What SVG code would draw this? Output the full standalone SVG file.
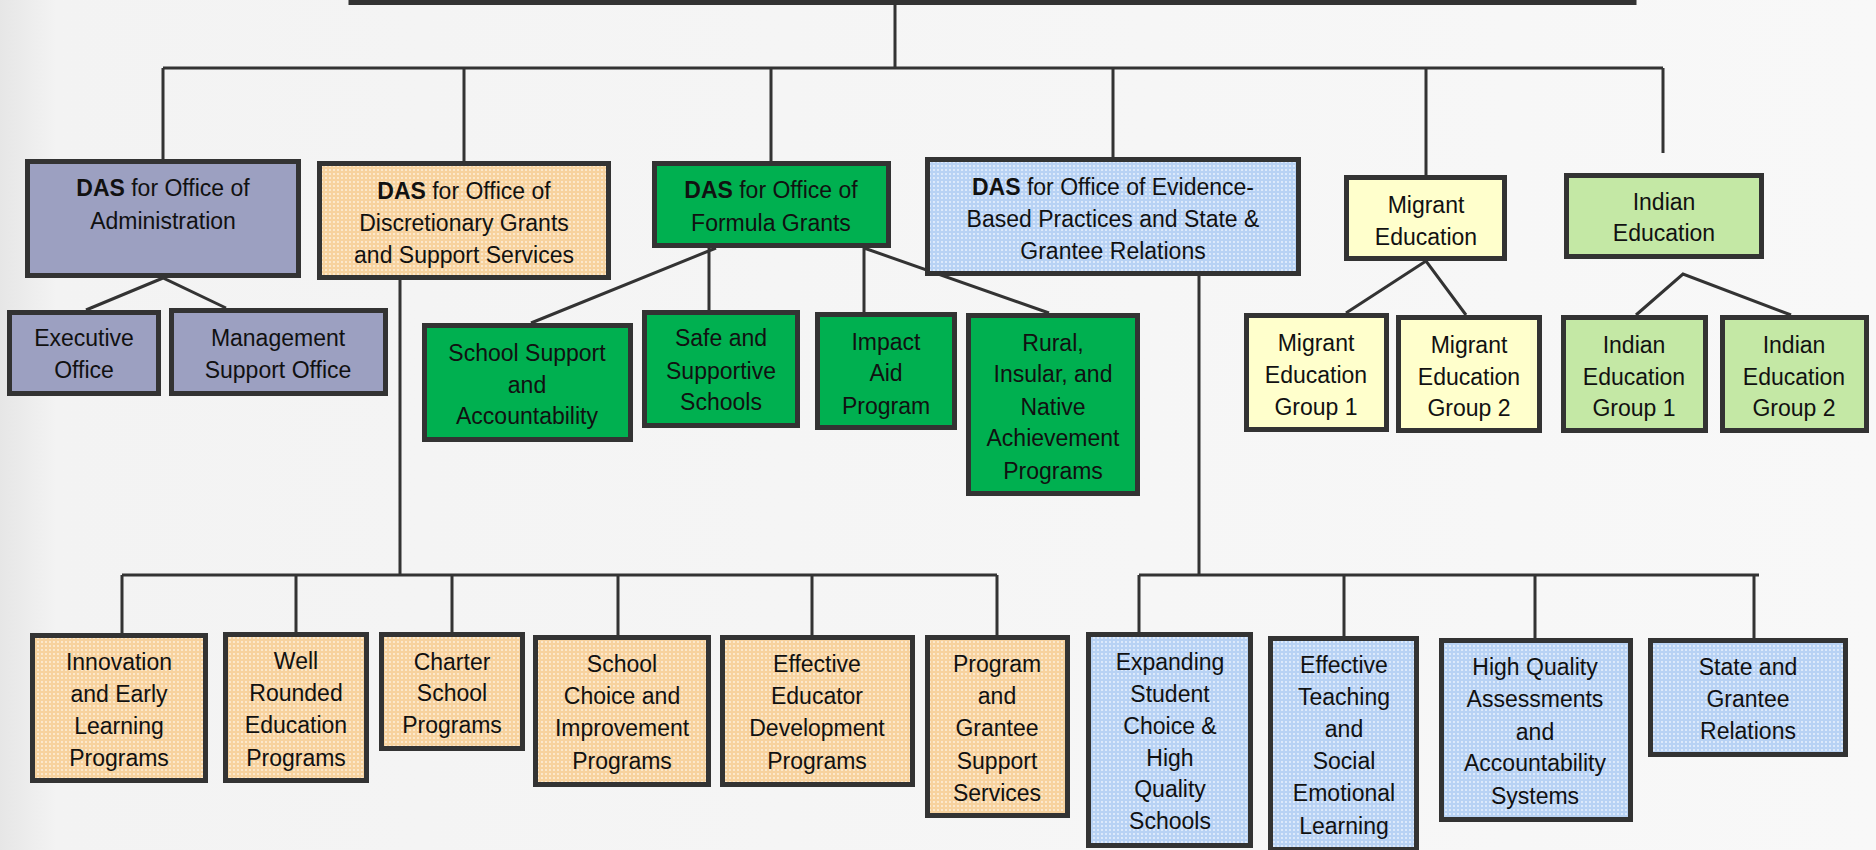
<svg xmlns="http://www.w3.org/2000/svg" width="1876" height="850" viewBox="0 0 1876 850">
<defs>
<linearGradient id="bg" x1="0" y1="0" x2="1" y2="0">
<stop offset="0" stop-color="#e6e6e6"/>
<stop offset="0.03" stop-color="#f3f3f3"/>
<stop offset="1" stop-color="#f8f8f8"/>
</linearGradient>
<pattern id="peach" width="4" height="4" patternUnits="userSpaceOnUse">
<rect width="4" height="4" fill="#f7d29e"/>
<circle cx="2" cy="2" r="0.9" fill="#fff3e2"/>
</pattern>
<pattern id="blue" width="4" height="4" patternUnits="userSpaceOnUse">
<rect width="4" height="4" fill="#b8d2f4"/>
<circle cx="2" cy="2" r="0.9" fill="#eef5ff"/>
</pattern>
</defs>
<style>
.box{stroke:#333;stroke-width:5}
.adm{fill:#9ca0c1}
.pch{fill:url(#peach)}
.grn{fill:#00b050}
.blu{fill:url(#blue)}
.yel{fill:#ffffcc}
.lgr{fill:#c4e8a5}
.t{font-family:"Liberation Sans",Arial,sans-serif;font-size:23px;text-anchor:middle;fill:#111}
.b{font-weight:bold}
.conn{stroke:#333;stroke-width:3;fill:none}
</style>
<rect width="1876" height="850" fill="url(#bg)"/>

<g id="connectors" class="conn">
<path d="M351,-10 V2.5 H1634 V-10" stroke-width="5"/>
<path d="M895,4 V68 M163,68 H1663 M163,68 V159 M464,68 V161 M771,68 V161 M1113,68 V157 M1426,68 V175 M1663,68 V153"/>
<path d="M86,310 L163,278 L226,308"/>
<path d="M531,323 L716,248 M709,248 V310 M864,248 V312 M864,248 L1049,313"/>
<path d="M1346,313 L1426,261 L1466,315"/>
<path d="M1636,315 L1683,274 L1791,315"/>
<path d="M400,280 V575 M122,575 H997 M122,575 V633 M296,575 V632 M452,575 V632 M618,575 V635 M812,575 V635 M997,575 V635"/>
<path d="M1199,276 V575 M1139,575 H1759 M1139,575 V632 M1344,575 V636 M1535,575 V638 M1754,575 V638"/>
</g>

<g id="das-admin">
<rect class="box adm" x="27.5" y="161.5" width="271" height="114"/>
<text class="t"><tspan x="163" y="196"><tspan class="b">DAS</tspan> for Office of</tspan><tspan x="163" y="229">Administration</tspan></text>
</g>
<g id="das-discretionary">
<rect class="box pch" x="319.5" y="163.5" width="289" height="114"/>
<text class="t"><tspan x="464" y="199"><tspan class="b">DAS</tspan> for Office of</tspan><tspan x="464" y="231">Discretionary Grants</tspan><tspan x="464" y="263">and Support Services</tspan></text>
</g>
<g id="das-formula">
<rect class="box grn" x="654.5" y="163.5" width="234" height="82"/>
<text class="t"><tspan x="771" y="198"><tspan class="b">DAS</tspan> for Office of</tspan><tspan x="771" y="231">Formula Grants</tspan></text>
</g>
<g id="das-evidence">
<rect class="box blu" x="927.5" y="159.5" width="371" height="114"/>
<text class="t"><tspan x="1113" y="195"><tspan class="b">DAS</tspan> for Office of Evidence-</tspan><tspan x="1113" y="227">Based Practices and State &amp;</tspan><tspan x="1113" y="259">Grantee Relations</tspan></text>
</g>
<g id="migrant-education">
<rect class="box yel" x="1346.5" y="177.5" width="158" height="81"/>
<text class="t"><tspan x="1426" y="213">Migrant</tspan><tspan x="1426" y="245">Education</tspan></text>
</g>
<g id="indian-education">
<rect class="box lgr" x="1566.5" y="175.5" width="195" height="81"/>
<text class="t"><tspan x="1664" y="210">Indian</tspan><tspan x="1664" y="241">Education</tspan></text>
</g>

<g id="executive-office">
<rect class="box adm" x="9.5" y="312.5" width="149" height="81"/>
<text class="t"><tspan x="84" y="346">Executive</tspan><tspan x="84" y="378">Office</tspan></text>
</g>
<g id="management-support-office">
<rect class="box adm" x="171.5" y="310.5" width="214" height="83"/>
<text class="t"><tspan x="278" y="346">Management</tspan><tspan x="278" y="378">Support Office</tspan></text>
</g>

<g id="school-support">
<rect class="box grn" x="424.5" y="325.5" width="206" height="114"/>
<text class="t"><tspan x="527" y="361">School Support</tspan><tspan x="527" y="393">and</tspan><tspan x="527" y="424">Accountability</tspan></text>
</g>
<g id="safe-supportive">
<rect class="box grn" x="644.5" y="312.5" width="153" height="113"/>
<text class="t"><tspan x="721" y="346">Safe and</tspan><tspan x="721" y="379">Supportive</tspan><tspan x="721" y="410">Schools</tspan></text>
</g>
<g id="impact-aid">
<rect class="box grn" x="817.5" y="314.5" width="137" height="113"/>
<text class="t"><tspan x="886" y="350">Impact</tspan><tspan x="886" y="381">Aid</tspan><tspan x="886" y="414">Program</tspan></text>
</g>
<g id="rural-insular">
<rect class="box grn" x="968.5" y="315.5" width="169" height="178"/>
<text class="t"><tspan x="1053" y="351">Rural,</tspan><tspan x="1053" y="382">Insular, and</tspan><tspan x="1053" y="415">Native</tspan><tspan x="1053" y="446">Achievement</tspan><tspan x="1053" y="479">Programs</tspan></text>
</g>

<g id="migrant-group-1">
<rect class="box yel" x="1246.5" y="315.5" width="140" height="114"/>
<text class="t"><tspan x="1316" y="351">Migrant</tspan><tspan x="1316" y="383">Education</tspan><tspan x="1316" y="415">Group 1</tspan></text>
</g>
<g id="migrant-group-2">
<rect class="box yel" x="1398.5" y="317.5" width="141" height="113"/>
<text class="t"><tspan x="1469" y="353">Migrant</tspan><tspan x="1469" y="385">Education</tspan><tspan x="1469" y="416">Group 2</tspan></text>
</g>
<g id="indian-group-1">
<rect class="box lgr" x="1563.5" y="317.5" width="142" height="113"/>
<text class="t"><tspan x="1634" y="353">Indian</tspan><tspan x="1634" y="385">Education</tspan><tspan x="1634" y="416">Group 1</tspan></text>
</g>
<g id="indian-group-2">
<rect class="box lgr" x="1722.5" y="317.5" width="144" height="113"/>
<text class="t"><tspan x="1794" y="353">Indian</tspan><tspan x="1794" y="385">Education</tspan><tspan x="1794" y="416">Group 2</tspan></text>
</g>

<g id="innovation-early-learning">
<rect class="box pch" x="32.5" y="635.5" width="173" height="145"/>
<text class="t"><tspan x="119" y="670">Innovation</tspan><tspan x="119" y="702">and Early</tspan><tspan x="119" y="734">Learning</tspan><tspan x="119" y="766">Programs</tspan></text>
</g>
<g id="well-rounded">
<rect class="box pch" x="225.5" y="634.5" width="141" height="146"/>
<text class="t"><tspan x="296" y="669">Well</tspan><tspan x="296" y="701">Rounded</tspan><tspan x="296" y="733">Education</tspan><tspan x="296" y="766">Programs</tspan></text>
</g>
<g id="charter-school">
<rect class="box pch" x="381.5" y="634.5" width="141" height="114"/>
<text class="t"><tspan x="452" y="670">Charter</tspan><tspan x="452" y="701">School</tspan><tspan x="452" y="733">Programs</tspan></text>
</g>
<g id="school-choice">
<rect class="box pch" x="535.5" y="637.5" width="173" height="147"/>
<text class="t"><tspan x="622" y="672">School</tspan><tspan x="622" y="704">Choice and</tspan><tspan x="622" y="736">Improvement</tspan><tspan x="622" y="769">Programs</tspan></text>
</g>
<g id="effective-educator">
<rect class="box pch" x="722.5" y="637.5" width="190" height="147"/>
<text class="t"><tspan x="817" y="672">Effective</tspan><tspan x="817" y="704">Educator</tspan><tspan x="817" y="736">Development</tspan><tspan x="817" y="769">Programs</tspan></text>
</g>
<g id="program-grantee-support">
<rect class="box pch" x="927.5" y="637.5" width="140" height="178"/>
<text class="t"><tspan x="997" y="672">Program</tspan><tspan x="997" y="704">and</tspan><tspan x="997" y="736">Grantee</tspan><tspan x="997" y="769">Support</tspan><tspan x="997" y="801">Services</tspan></text>
</g>

<g id="expanding-choice">
<rect class="box blu" x="1088.5" y="634.5" width="162" height="211"/>
<text class="t"><tspan x="1170" y="670">Expanding</tspan><tspan x="1170" y="702">Student</tspan><tspan x="1170" y="734">Choice &amp;</tspan><tspan x="1170" y="766">High</tspan><tspan x="1170" y="797">Quality</tspan><tspan x="1170" y="829">Schools</tspan></text>
</g>
<g id="effective-teaching">
<rect class="box blu" x="1270.5" y="638.5" width="146" height="211"/>
<text class="t"><tspan x="1344" y="673">Effective</tspan><tspan x="1344" y="705">Teaching</tspan><tspan x="1344" y="737">and</tspan><tspan x="1344" y="769">Social</tspan><tspan x="1344" y="801">Emotional</tspan><tspan x="1344" y="834">Learning</tspan></text>
</g>
<g id="high-quality-assessments">
<rect class="box blu" x="1441.5" y="640.5" width="189" height="179"/>
<text class="t"><tspan x="1535" y="675">High Quality</tspan><tspan x="1535" y="707">Assessments</tspan><tspan x="1535" y="740">and</tspan><tspan x="1535" y="771">Accountability</tspan><tspan x="1535" y="804">Systems</tspan></text>
</g>
<g id="state-grantee-relations">
<rect class="box blu" x="1650.5" y="640.5" width="195" height="114"/>
<text class="t"><tspan x="1748" y="675">State and</tspan><tspan x="1748" y="707">Grantee</tspan><tspan x="1748" y="739">Relations</tspan></text>
</g>
</svg>
